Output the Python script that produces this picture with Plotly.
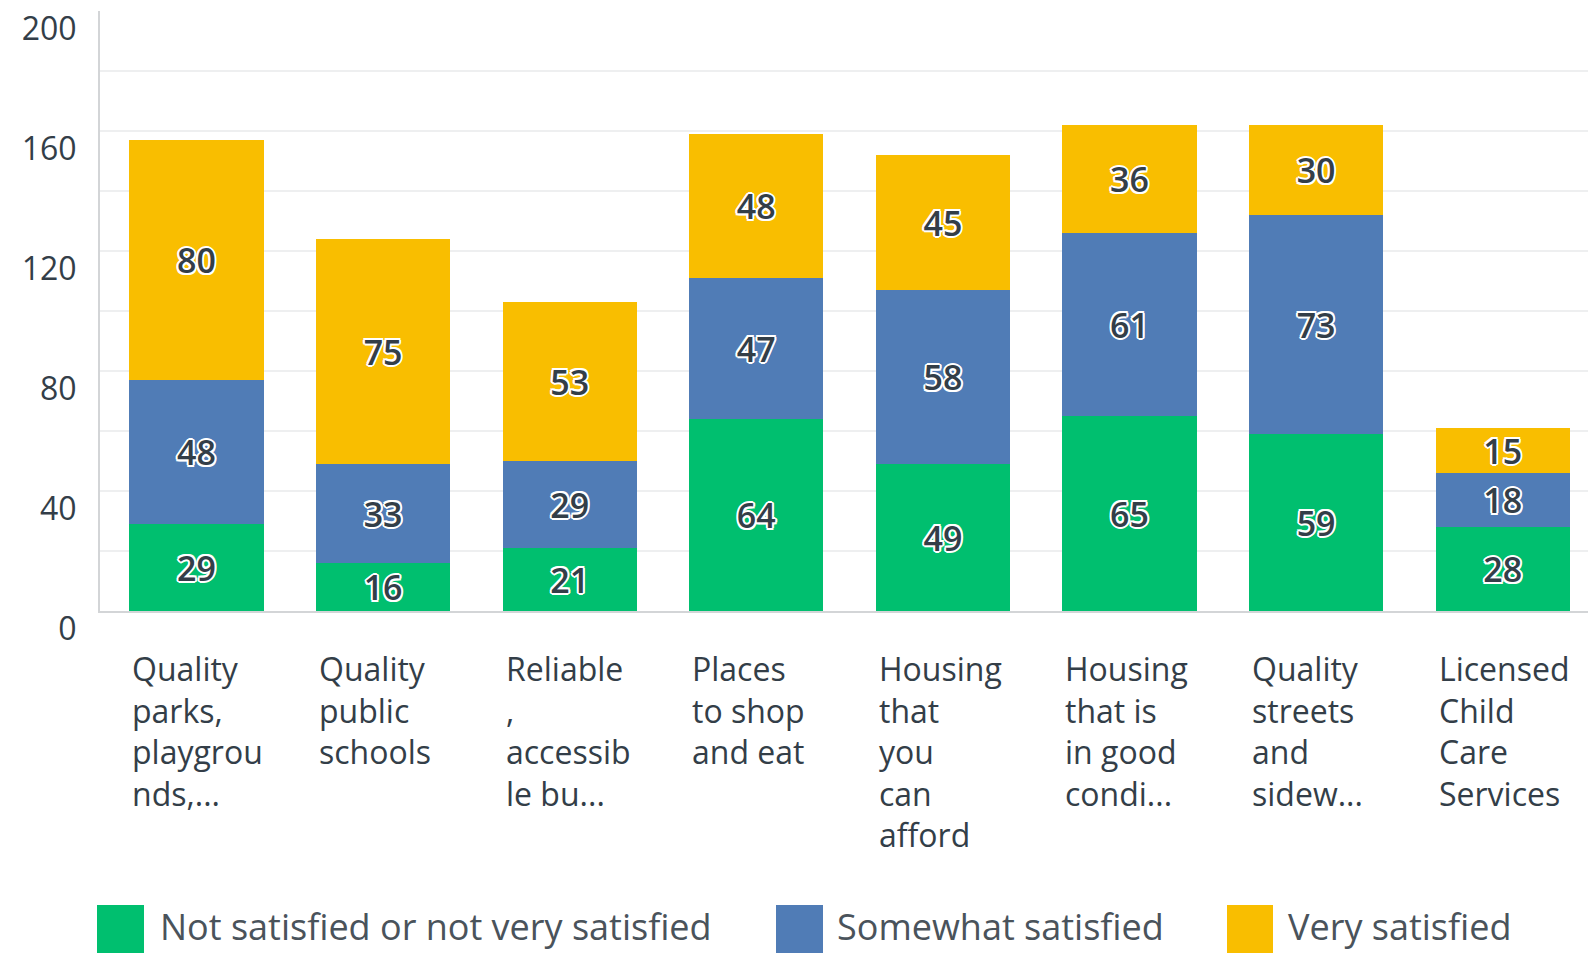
import plotly.graph_objects as go

categories = [
    "Quality<br>parks,<br>playgrou<br>nds,...",
    "Quality<br>public<br>schools",
    "Reliable<br>,<br>accessib<br>le bu...",
    "Places<br>to shop<br>and eat",
    "Housing<br>that<br>you<br>can<br>afford",
    "Housing<br>that is<br>in good<br>condi...",
    "Quality<br>streets<br>and<br>sidew...",
    "Licensed<br>Child<br>Care<br>Services",
]
series_names = ["Not satisfied or not very satisfied", "Somewhat satisfied", "Very satisfied"]
not_satisfied = [29, 16, 21, 64, 49, 65, 59, 28]
somewhat_satisfied = [48, 33, 29, 47, 58, 61, 73, 18]
very_satisfied = [80, 75, 53, 48, 45, 36, 30, 15]
y_tick_values = [0, 40, 80, 120, 160, 200]
y_grid_values = [20, 40, 60, 80, 100, 120, 140, 160, 180]

colors = ["#00BF6F", "#507CB6", "#F9BE00"]
TEXT = "#333E48"
FONT = "Open Sans"
OFF = 8  # default page body margin
W, H = 1596 - OFF, 953 - OFF
ML, MT = 100 - OFF, 11 - OFF
PLOT_BOTTOM = 611 - OFF
MB = H - PLOT_BOTTOM
PH = H - MT - MB

outline = ("2px 0 0 #fff, -2px 0 0 #fff, 0 2px 0 #fff, 0 -2px 0 #fff, "
           "1.5px 1.5px 0 #fff, -1.5px -1.5px 0 #fff, 1.5px -1.5px 0 #fff, -1.5px 1.5px 0 #fff")

x_idx = list(range(len(categories)))
fig = go.Figure()
for name, vals, col in zip(series_names, [not_satisfied, somewhat_satisfied, very_satisfied], colors):
    fig.add_trace(go.Bar(
        x=x_idx, y=vals, name=name, marker=dict(color=col, line=dict(width=0)),
        width=0.72, text=[str(v) for v in vals], textposition="inside",
        insidetextanchor="middle", textangle=0, constraintext="none",
        textfont=dict(family=FONT, size=34, color=TEXT, weight=600, shadow=outline),
        showlegend=False, hoverinfo="skip",
    ))

def py2paper(py):  # page pixel y -> paper
    return (PLOT_BOTTOM - (py - OFF)) / PH

def px2paper(px):  # page pixel x -> paper
    return ((px - OFF) - ML) / (W - ML)

annotations = []
for i, cat in enumerate(categories):
    annotations.append(dict(
        x=i, xref="x", y=py2paper(645), yref="paper", text=cat, showarrow=False,
        xanchor="left", yanchor="top", align="left", xshift=-66,
        font=dict(family=FONT, size=32, color=TEXT),
    ))

shapes = []
legend_boxes = [(97, 144, 158), (776, 823, 835), (1227, 1273, 1286)]
for (x0, x1, tx), name, col in zip(legend_boxes, series_names, colors):
    shapes.append(dict(type="rect", xref="paper", yref="paper",
                       x0=px2paper(x0), x1=px2paper(x1), y0=py2paper(905), y1=py2paper(960),
                       fillcolor=col, line=dict(width=0), layer="above"))
    annotations.append(dict(
        x=px2paper(tx), xref="paper", y=py2paper(926), yref="paper", text=name,
        showarrow=False, xanchor="left", yanchor="middle",
        font=dict(family=FONT, size=36, color="#4A535B"),
    ))

fig.update_layout(
    width=W, height=H, barmode="stack",
    margin=dict(l=ML, r=0, t=MT, b=MB, pad=0, autoexpand=False),
    plot_bgcolor="white", paper_bgcolor="white",
    font=dict(family=FONT, color=TEXT),
    shapes=shapes, annotations=annotations,
    xaxis=dict(range=[-0.517, 7.5], showticklabels=False, showgrid=False, zeroline=False,
               showline=True, linecolor="#D3D5D7", linewidth=2, ticks="", fixedrange=True,
               automargin=False),
    yaxis=dict(range=[0, 200], tickvals=y_tick_values, ticktext=[str(v) for v in y_tick_values],
               showgrid=False, zeroline=False, showline=True, linecolor="#D3D5D7", linewidth=2,
               ticks="", ticklabelstandoff=15, ticklabelshift=18, automargin=False,
               ticklabeloverflow="allow",
               tickfont=dict(family=FONT, size=32, color=TEXT),
               minor=dict(tickvals=y_grid_values, showgrid=True, gridcolor="#EEEFF0", gridwidth=2, ticks="")),
    bargap=0.28,
)

fig.write_html("out.html")
